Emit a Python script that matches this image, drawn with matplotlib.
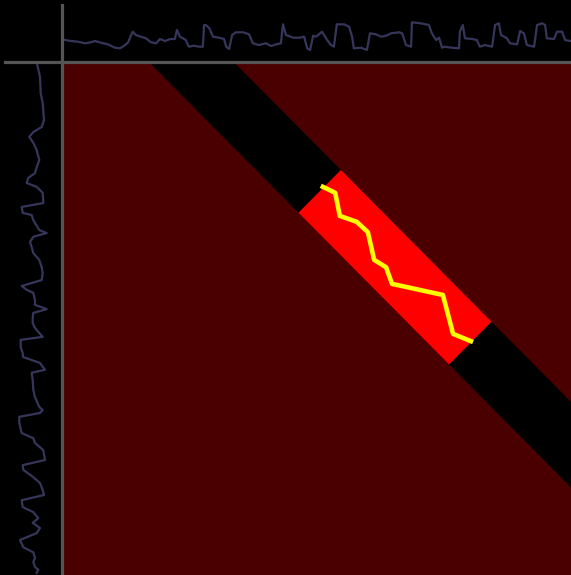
import numpy as np
import matplotlib
matplotlib.use("Agg")
import matplotlib.pyplot as plt
from matplotlib.lines import Line2D

# grid size (both series share index 0..N)
N = 120

# top series: index positions and amplitudes
top_t = [0, 0.7, 2.1, 3.8, 5.4, 6.8, 7.8, 9.2, 10.8, 12.5, 13.7, 14.9, 15.6, 16.3, 16.7,
         17.4, 18.6, 19.8, 21.0, 22.2, 23.1, 24.3, 25.5, 26.6, 27.1, 27.8, 28.5, 29.2, 29.9,
         31.1, 32.3, 33.2, 33.5, 33.9, 34.7, 35.6, 37.0, 38.2, 38.7, 39.4, 40.1, 41.0, 42.7,
         44.1, 45.0, 46.4, 48.1, 49.3, 50.5, 51.6, 52.1, 52.8, 54.5, 55.9, 57.1, 57.8, 58.5,
         59.2, 59.9, 61.3, 62.5, 63.4, 64.1, 64.8, 66.5, 67.7, 68.4, 68.8, 70.5, 71.9, 72.6,
         74.0, 75.2, 76.4, 77.6, 79.5, 80.2, 81.1, 82.3, 82.5, 84.6, 86.5, 87.2, 88.2, 88.9,
         89.6, 90.1, 91.9, 93.6, 93.8, 94.5, 95.0, 96.7, 97.8, 98.5, 99.7, 101.4, 102.1, 103.0,
         103.5, 104.9, 105.6, 107.3, 108.0, 108.9, 109.6, 111.3, 112.0, 113.2, 113.9, 114.3,
         116.0, 116.7, 117.9, 118.6, 119.8]
top_y = [38.3, 40, 41, 41.7, 43.3, 42.3, 41, 42.7, 44.3, 47.7, 48.3, 45, 42.3, 35, 31.7,
         35, 36.7, 38.3, 42.3, 43.3, 39, 41, 39, 39, 30, 36.7, 38.3, 40, 46.7,
         45.7, 46.7, 46.7, 25, 25, 28, 36.7, 37.7, 39, 46.7, 49, 35, 32.3, 32.3,
         34.3, 43.3, 45, 43.3, 46, 44.3, 43.3, 24.3, 35, 37.7, 37.7, 36.7, 48.3, 50,
         35.7, 36.7, 31.7, 40, 45, 46.7, 24.3, 24.3, 26.7, 36.7, 48.3, 47.7, 50, 33.3,
         34.3, 36.7, 35.7, 33.3, 32.3, 33.3, 45, 46.7, 22.3, 23.3, 25, 33.3, 40, 37.7,
         47.7, 46.7, 47.7, 48.3, 31.7, 25, 38.3, 39, 40, 46.7, 45, 46.7, 25, 23.3,
         35, 38.3, 43.3, 44.3, 31, 33.3, 45, 46.7, 25, 23.3, 25, 38.3,
         39, 31.7, 31.7, 40, 41]
top_vals = [55 - v for v in top_y]

# left series: index positions (top to bottom) and amplitudes
left_t = [0.7, 3.5, 7.3, 9.6, 13.6, 15.2, 16.4, 17.5, 18.9, 20.6, 22.9, 24.6, 26.0, 27.1,
          28.3, 29.2, 30.6, 33.0, 33.9, 35.3, 35.8, 37.0, 39.3, 40.0, 40.9, 42.1, 43.3,
          44.7, 46.3, 48.0, 49.4, 51.0, 52.4, 53.3, 54.0, 55.7, 56.8, 57.8, 58.7, 59.9,
          61.1, 62.2, 63.4, 64.3, 65.0, 66.7, 68.1, 69.0, 70.4, 72.0, 72.7, 74.4, 76.7,
          78.4, 80.7, 81.4, 82.1, 83.0, 84.4, 86.8, 88.0, 89.1, 90.8, 93.1, 94.3, 95.4,
          97.1, 98.5, 100.1, 101.3, 102.5, 104.1, 105.3, 106.7, 107.8, 109.0, 110.2,
          111.8, 113.5, 114.7, 116.0, 117.0, 118.1, 118.8, 119.5]
left_x = [37.3, 40, 40.7, 42.7, 44, 41.7, 33.3, 29.3, 33.3, 36.7, 39.3, 36.7, 35, 28.3,
          26.7, 36.7, 42.7, 43.3, 21.7, 22.7, 31.7, 33.3, 39.3, 46.7, 33.3, 30, 31.7,
          33.3, 39.3, 41.7, 42.7, 41.7, 21.7, 26.7, 33.3, 35, 35, 46.7, 33.3, 32.7,
          32.7, 35, 39.3, 42.7, 20.7, 20.7, 22.7, 23, 40, 45, 31.7, 32.7, 33.3,
          35, 39.3, 42.7, 40, 19.3, 19.3, 21.7, 33.3, 35, 43.3, 45, 22.7, 23.3,
          33.3, 40, 42.7, 44, 21.7, 22.7, 33.3, 38.3, 32.7, 40, 36.7,
          20, 23.3, 33.3, 35, 33.3, 35, 38.3, 36.7]
left_vals = [v - 15 for v in left_x]

# warping window (col - row) and highlighted span (col + row)
band_lo, band_hi = 20.5, 40.5
span_lo, span_hi = 91, 162

# warping path (col, row)
path_col = [61.5, 64.4, 65.5, 69.5, 72.1, 73.6, 76.4, 77.8, 89.8, 92.2, 96.4]
path_row = [29.2, 30.6, 36.0, 37.4, 39.8, 46.3, 48.0, 51.9, 54.5, 63.6, 65.3]

bg_red = '#4b0000'
series_color = '#36365a'
rule_color = '#555555'

fig = plt.figure(figsize=(5.71, 5.75), dpi=100, facecolor='black')
W, H = 571, 575

ax = fig.add_axes([62 / W, 0, 509 / W, 513 / H])
ax_top = fig.add_axes([62 / W, 513 / H, 509 / W, 57 / H])
ax_left = fig.add_axes([5 / W, 0, 57 / W, 513 / H])

for a in (ax, ax_top, ax_left):
    a.set_facecolor('black')
    a.set_axis_off()

# main panel
ax.set_xlim(0, N)
ax.set_ylim(N, 0)
ax.fill([0, N, N, 0], [0, 0, N, N], color=bg_red, lw=0)
ax.fill([band_lo, band_hi, N, N], [0, 0, N - band_hi, N - band_lo], color='black', lw=0)
c1 = ((span_lo + band_hi) / 2, (span_lo - band_hi) / 2)
c2 = ((span_hi + band_hi) / 2, (span_hi - band_hi) / 2)
c3 = ((span_hi + band_lo) / 2, (span_hi - band_lo) / 2)
c4 = ((span_lo + band_lo) / 2, (span_lo - band_lo) / 2)
ax.fill([c1[0], c2[0], c3[0], c4[0]], [c1[1], c2[1], c3[1], c4[1]], color='#ff0000', lw=0)
ax.plot(path_col, path_row, color='#ffff00', lw=3.3, solid_joinstyle='round')

# top series
ax_top.plot(top_t, top_vals, color=series_color, lw=1.6)
ax_top.set_xlim(0, N)
ax_top.set_ylim(-7, 50)

# left series
ax_left.plot(left_vals, left_t, color=series_color, lw=1.6)
ax_left.set_xlim(-10, 47)
ax_left.set_ylim(N, 0)

# separating rules
fig.add_artist(Line2D([62 / W, 62 / W], [0, 1 - 5 / H], transform=fig.transFigure,
                      color=rule_color, lw=2.3))
fig.add_artist(Line2D([5 / W, 1], [1 - 62 / H, 1 - 62 / H], transform=fig.transFigure,
                      color=rule_color, lw=2.3))

fig.savefig('out.png', dpi=100, facecolor='black')
